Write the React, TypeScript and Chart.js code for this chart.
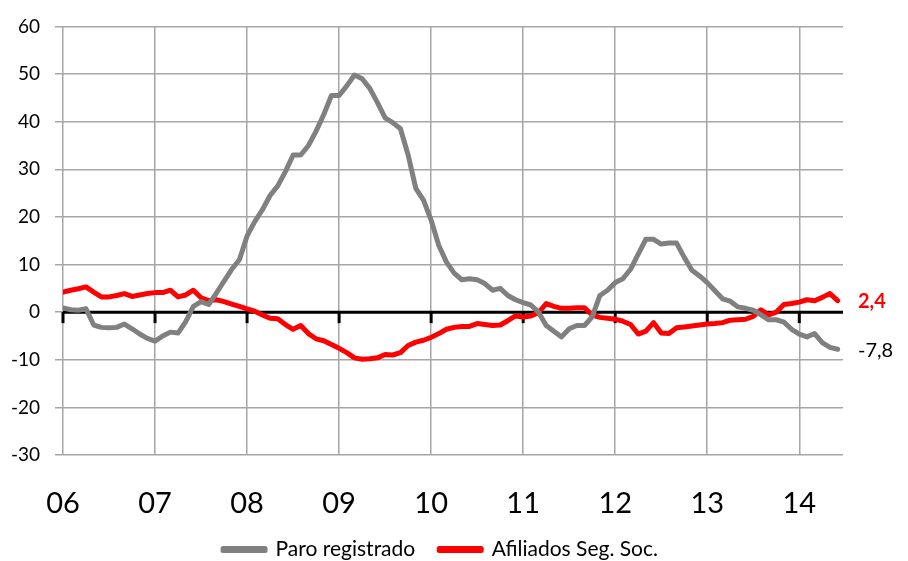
import React, { useEffect, useRef } from "react";
import { Chart, registerables } from "chart.js";

Chart.register(...registerables);

const yearLabels = ["06", "07", "08", "09", "10", "11", "12", "13", "14"];

const paroRegistrado = [
  0.9, 0.5, 0.4, 0.7, -2.7, -3.2, -3.3, -3.2, -2.5, -3.5, -4.6, -5.5,
  -6.1, -5.0, -4.2, -4.4, -2.0, 1.2, 2.2, 1.6, 4.0, 6.5, 9.0, 11.0,
  16.0, 19.0, 21.5, 24.5, 26.5, 29.5, 33.0, 33.0, 35.0, 38.0, 41.5, 45.5,
  45.5, 47.5, 49.8, 49.0, 47.0, 44.0, 40.8, 39.8, 38.5, 33.0, 26.0, 23.5,
  19.3, 14.0, 10.5, 8.2, 6.8, 7.0, 6.8, 6.0, 4.6, 5.0, 3.5, 2.6,
  2.0, 1.5, 0.0, -2.8, -4.0, -5.2, -3.5, -2.8, -2.8, -1.0, 3.5, 4.6,
  6.2, 7.0, 9.0, 12.2, 15.3, 15.3, 14.3, 14.5, 14.5, 11.5, 8.8, 7.6,
  6.2, 4.5, 2.8, 2.3, 1.1, 0.8, 0.4, -0.6, -1.6, -1.6, -2.1, -3.6,
  -4.6, -5.2, -4.5, -6.4, -7.4, -7.8,
];

const afiliadosSegSoc = [
  4.2, 4.6, 4.9, 5.3, 4.2, 3.2, 3.2, 3.5, 3.9, 3.3, 3.6, 3.9,
  4.1, 4.1, 4.6, 3.2, 3.6, 4.6, 3.0, 2.4, 2.6, 2.2, 1.7, 1.2,
  0.7, 0.2, -0.6, -1.3, -1.4, -2.6, -3.6, -2.8, -4.5, -5.6, -6.0, -6.8,
  -7.6, -8.5, -9.6, -9.9, -9.8, -9.6, -8.9, -9.0, -8.5, -7.0, -6.3, -5.9,
  -5.3, -4.5, -3.6, -3.2, -3.0, -3.0, -2.4, -2.6, -2.8, -2.7, -1.8, -0.8,
  -1.0, -0.8, -0.1, 1.8, 1.2, 0.8, 0.8, 0.9, 0.9, -0.6, -1.1, -1.3,
  -1.5, -1.9, -2.6, -4.6, -4.0, -2.2, -4.4, -4.5, -3.3, -3.1, -2.9, -2.7,
  -2.5, -2.4, -2.2, -1.7, -1.6, -1.5, -0.9, 0.5, -0.6, 0.0, 1.6, 1.8,
  2.1, 2.6, 2.4, 3.1, 3.9, 2.4,
];

const seriesNames = ["Paro registrado", "Afiliados Seg. Soc."];
const seriesColors = ["#808080", "#ff0000"];
const endLabelColors = ["#000000", "#ff0000"];
const endLabelWeights = ["normal", "bold"];

const yMin = -30;
const yMax = 60;
const yStep = 10;

const FONT = "Lato, 'Open Sans', sans-serif";

const zeroLinePlugin = {
  id: "zeroLine",
  beforeDatasetsDraw(chart: any) {
    const { ctx, chartArea, scales } = chart;
    const y0 = scales.y.getPixelForValue(0);
    ctx.save();
    ctx.strokeStyle = "#000";
    ctx.lineWidth = 3;
    ctx.beginPath();
    ctx.moveTo(chartArea.left, y0);
    ctx.lineTo(chartArea.right, y0);
    ctx.stroke();
    scales.x.ticks.forEach((t: any) => {
      const x = scales.x.getPixelForValue(t.value);
      ctx.beginPath();
      ctx.moveTo(x, y0);
      ctx.lineTo(x, y0 + 11);
      ctx.stroke();
    });
    ctx.restore();
  },
};

const endLabelPlugin = {
  id: "endLabels",
  afterDatasetsDraw(chart: any) {
    const { ctx, chartArea } = chart;
    ctx.save();
    chart.data.datasets.forEach((ds: any, i: number) => {
      const meta = chart.getDatasetMeta(i);
      const last = meta.data[meta.data.length - 1];
      const v = ds.data[ds.data.length - 1].y;
      const txt = v.toFixed(1).replace(".", ",");
      ctx.font = `${endLabelWeights[i]} 20px ${FONT}`;
      ctx.fillStyle = endLabelColors[i];
      ctx.textAlign = "left";
      ctx.textBaseline = "middle";
      ctx.fillText(txt, chartArea.right + 15, last.y + 1);
    });
    ctx.restore();
  },
};

export default function App() {
  const canvasRef = useRef<HTMLCanvasElement>(null);

  useEffect(() => {
    const canvas = canvasRef.current;
    if (!canvas) return;
    const toPoints = (arr: number[]) => arr.map((y, i) => ({ x: i, y }));
    const tickValues = yearLabels.map((_, i) => i * 12);

    const chart = new Chart(canvas, {
      type: "line",
      data: {
        datasets: [paroRegistrado, afiliadosSegSoc].map((arr, i) => ({
          label: seriesNames[i],
          data: toPoints(arr),
          borderColor: seriesColors[i],
          backgroundColor: seriesColors[i],
          borderWidth: 5,
          pointRadius: 0,
          tension: 0,
          borderJoinStyle: "round",
          borderCapStyle: "round",
        })),
      },
      options: {
        animation: false,
        responsive: false,
        maintainAspectRatio: false,
        layout: { padding: { top: 21, right: 27, left: 0, bottom: 0 } },
        plugins: {
          tooltip: { enabled: false },
          legend: {
            position: "bottom",
            labels: {
              boxWidth: 42,
              boxHeight: 2,
              padding: 24,
              color: "#000",
              font: { family: FONT, size: 21 },
            },
          },
        },
        scales: {
          x: {
            type: "linear",
            min: 0,
            max: 101.7,
            afterBuildTicks: (scale: any) => {
              scale.ticks = tickValues.map((v) => ({ value: v }));
            },
            afterFit: (scale: any) => {
              scale.height = 60;
            },
            grid: { color: "#a6a6a6", lineWidth: 1.5, drawTicks: false },
            border: { display: false },
            ticks: {
              autoSkip: false,
              maxRotation: 0,
              padding: 31,
              color: "#000",
              font: { family: FONT, size: 29 },
              callback: (v: any) => yearLabels[Math.round(Number(v) / 12)] ?? "",
            },
          },
          y: {
            min: yMin,
            max: yMax,
            afterFit: (scale: any) => {
              scale.width = 63;
            },
            grid: { color: "#a6a6a6", lineWidth: 1.5, tickLength: 8 },
            border: { display: false },
            ticks: {
              stepSize: yStep,
              padding: 15,
              color: "#000",
              font: { family: FONT, size: 19 },
            },
          },
          yRight: {
            position: "right",
            min: yMin,
            max: yMax,
            afterFit: (scale: any) => {
              scale.width = 38;
            },
            grid: { display: false },
            border: { display: false },
            ticks: { display: false },
          },
        },
      },
      plugins: [zeroLinePlugin, endLabelPlugin],
    } as any);

    return () => chart.destroy();
  }, []);

  return (
    <div
      style={{
        position: "fixed",
        left: 0,
        top: 0,
        width: 908,
        height: 561,
        overflow: "hidden",
        background: "#fff",
      }}
    >
      <canvas ref={canvasRef} width={908} height={570} style={{ display: "block" }} />
    </div>
  );
}
